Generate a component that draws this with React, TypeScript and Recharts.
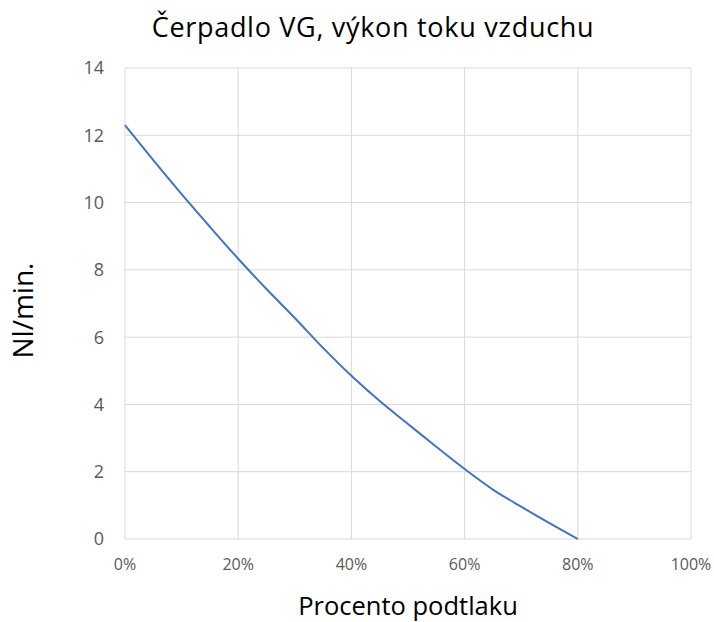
import { CartesianGrid, Label, Line, LineChart, XAxis, YAxis } from "recharts";

const vacuumPct = [0, 5, 10, 15, 20, 25, 30, 35, 40, 45, 50, 55, 60, 65, 70, 75, 80];
const flowNlMin = [12.3, 11.26, 10.25, 9.28, 8.33, 7.43, 6.57, 5.68, 4.85, 4.1, 3.42, 2.74, 2.08, 1.47, 0.96, 0.47, 0];
const xTicks = [0, 20, 40, 60, 80, 100];
const yTicks = [0, 2, 4, 6, 8, 10, 12, 14];

const data = vacuumPct.map((p, i) => ({ p, flow: flowNlMin[i] }));

const FONT = "'Open Sans', 'Noto Sans', sans-serif";

export default function App() {
  return (
    <div style={{ position: "absolute", left: 0, top: 0, width: 714, height: 622, background: "#fff", fontFamily: FONT }}>
      <LineChart width={714} height={622} data={data} margin={{ top: 68, right: 23, bottom: 0, left: 0 }}>
        <CartesianGrid stroke="#d9d9d9" strokeWidth={1} />
        <XAxis
          dataKey="p"
          type="number"
          domain={[0, 100]}
          ticks={xTicks}
          tickFormatter={(v) => `${v}%`}
          axisLine={false}
          tickLine={false}
          tickSize={0}
          tickMargin={20}
          height={83}
          tick={{ fontSize: 16, fill: "#595959", fontFamily: FONT }}
        >
          <Label value="Procento podtlaku" position="insideBottom" offset={7} style={{ fontSize: 25.5, fill: "#000", fontFamily: FONT }} />
        </XAxis>
        <YAxis
          type="number"
          domain={[0, 14]}
          ticks={yTicks}
          axisLine={false}
          tickLine={false}
          tickSize={0}
          tickMargin={21}
          width={125}
          tick={{ fontSize: 18, fill: "#595959", fontFamily: FONT }}
        >
          <Label value="Nl/min." angle={-90} position="center" dx={-39} dy={7} style={{ fontSize: 28, fill: "#000", fontFamily: FONT }} />
        </YAxis>
        <Line type="monotone" dataKey="flow" stroke="#4472C4" strokeWidth={2} dot={false} isAnimationActive={false} />
      </LineChart>
      <svg width={714} height={60} style={{ position: "absolute", left: 0, top: 0, pointerEvents: "none" }}>
        <text x={373} y={37} textAnchor="middle" fontSize={27} letterSpacing={0.7} fill="#000" fontFamily="'Open Sans', 'Noto Sans', sans-serif">
          Čerpadlo VG, výkon toku vzduchu
        </text>
      </svg>
    </div>
  );
}
